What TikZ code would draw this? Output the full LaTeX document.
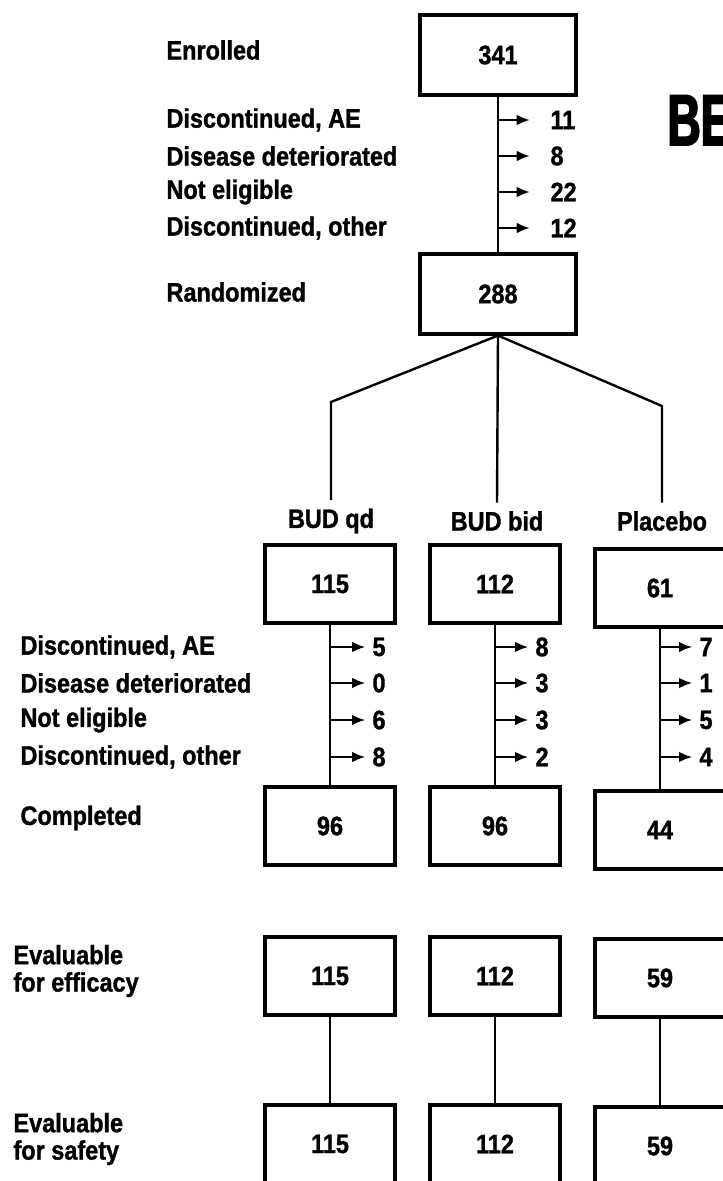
\documentclass[tikz,border=0pt]{standalone}
\usepackage{graphicx}
\usepackage{fontspec}
\setmainfont{Liberation Sans}
\newfontfamily\scanfamily[FakeStretch=0.88, FakeBold=1.2]{Liberation Sans}
\newfontfamily\titlefamily[FakeStretch=0.64, FakeBold=2.5]{Liberation Sans}
\usetikzlibrary{arrows.meta}

\newcommand{\dfont}{\fontsize{20}{20.5}\selectfont\scanfamily\bfseries}

\tikzset{every picture/.style={line width=0.75pt}}
\tikzset{
  bigbox/.style={draw, line width=2.3pt, minimum width=117pt, minimum height=60pt, inner sep=0pt, font=\dfont},
  grpbox/.style={draw, line width=2.3pt, minimum width=97.5pt, minimum height=58.5pt, inner sep=0pt, font=\dfont},
  lbl/.style={anchor=west, inner sep=0pt, align=left, font=\dfont},
  grplbl/.style={inner sep=6pt, font=\dfont},
  num/.style={anchor=west, inner sep=0pt, font=\dfont},
  conn/.style={line width=1.8pt},
  outarrow/.style={line width=1.8pt, -{Latex[length=10pt,width=8pt]}},
}

\begin{document}
\begin{tikzpicture}[x=0.75pt,y=0.75pt,yscale=-1,xscale=1]
\useasboundingbox (0,0) rectangle (723,1181);
\clip (0,0) rectangle (723,1181);

% Boxes
\node[bigbox] (enrol) at (498,55) {341};
\node[bigbox] (rand) at (498,294) {288};
\node[grpbox] (qd) at (330,584) {115};
\node[grpbox] (bid) at (495,584) {112};
\node[grpbox] (plc) at (660,588) {61};
\node[grpbox] (qdc) at (330,826) {96};
\node[grpbox] (bidc) at (495,826) {96};
\node[grpbox] (plcc) at (660,830) {44};
\node[grpbox] (qde) at (330,976) {115};
\node[grpbox] (bide) at (495,976) {112};
\node[grpbox] (plce) at (660,978) {59};
\node[grpbox] (qds) at (330,1144) {115};
\node[grpbox] (bids) at (495,1144) {112};
\node[grpbox] (plcs) at (660,1146) {59};

% Title (cut off at the edge)
\node[anchor=base west, inner sep=0pt] (title) at (667,145) {\fontsize{54}{54}\selectfont\titlefamily\bfseries BE};

% Left labels
\node[lbl] (lenrol) at (166,50) {Enrolled};
\node[lbl] (lae) at (166,120) {Discontinued, AE};
\node[lbl] (ldis) at (166,156) {Disease deteriorated};
\node[lbl] (lnot) at (166,192) {Not eligible};
\node[lbl] (loth) at (166,228) {Discontinued, other};
\node[lbl] (lrand) at (166,292) {Randomized};

\node[lbl] (gae) at (20,647) {Discontinued, AE};
\node[lbl] (gdis) at (20,683) {Disease deteriorated};
\node[lbl] (gnot) at (20,720) {Not eligible};
\node[lbl] (goth) at (20,757) {Discontinued, other};
\node[lbl] (lcomp) at (20,818) {Completed};
\node[lbl] (leff) at (13,971) {Evaluable\\for efficacy};
\node[lbl] (lsaf) at (13,1139) {Evaluable\\for safety};

% Group labels
\node[grplbl] (lqd) at (331,521) {BUD qd};
\node[grplbl] (lbid) at (497,521) {BUD bid};
\node[grplbl] (lplc) at (662,521) {Placebo};

% Randomisation fan
\coordinate (kqd) at (331,402);
\coordinate (kplc) at (662,406);
\draw[conn] (enrol) -- (rand);
\draw[conn] (rand.south) -- (kqd) -- (lqd.north);
\draw[conn] (rand.south) -- (lbid.north);
\draw[conn] (rand.south) -- (kplc) -- (lplc.north);

% Group trunks
\draw[conn] (qd) -- (qdc);
\draw[conn] (bid) -- (bidc);
\draw[conn] (plc) -- (plcc);
\draw[conn] (qde) -- (qds);
\draw[conn] (bide) -- (bids);
\draw[conn] (plce) -- (plcs);

% Drop-outs before randomisation
\coordinate (e1) at (498,120);
\coordinate (e2) at (498,156);
\coordinate (e3) at (498,192);
\coordinate (e4) at (498,228);
\node[num] (en1) at (550,120) {11};
\node[num] (en2) at (550,156) {8};
\node[num] (en3) at (550,192) {22};
\node[num] (en4) at (550,228) {12};
\draw[outarrow, shorten >=15pt] (e1) -- (en1.west);
\draw[outarrow, shorten >=15pt] (e2) -- (en2.west);
\draw[outarrow, shorten >=15pt] (e3) -- (en3.west);
\draw[outarrow, shorten >=15pt] (e4) -- (en4.west);

% Drop-outs, BUD qd
\coordinate (q1) at (330,647);
\coordinate (q2) at (330,683);
\coordinate (q3) at (330,720);
\coordinate (q4) at (330,757);
\node[num] (qn1) at (372,647) {5};
\node[num] (qn2) at (372,683) {0};
\node[num] (qn3) at (372,720) {6};
\node[num] (qn4) at (372,757) {8};
\draw[outarrow, shorten >=5pt] (q1) -- (qn1.west);
\draw[outarrow, shorten >=5pt] (q2) -- (qn2.west);
\draw[outarrow, shorten >=5pt] (q3) -- (qn3.west);
\draw[outarrow, shorten >=5pt] (q4) -- (qn4.west);

% Drop-outs, BUD bid
\coordinate (b1) at (495,647);
\coordinate (b2) at (495,683);
\coordinate (b3) at (495,720);
\coordinate (b4) at (495,757);
\node[num] (bn1) at (535,647) {8};
\node[num] (bn2) at (535,683) {3};
\node[num] (bn3) at (535,720) {3};
\node[num] (bn4) at (535,757) {2};
\draw[outarrow, shorten >=5pt] (b1) -- (bn1.west);
\draw[outarrow, shorten >=5pt] (b2) -- (bn2.west);
\draw[outarrow, shorten >=5pt] (b3) -- (bn3.west);
\draw[outarrow, shorten >=5pt] (b4) -- (bn4.west);

% Drop-outs, placebo
\coordinate (p1) at (660,647);
\coordinate (p2) at (660,683);
\coordinate (p3) at (660,720);
\coordinate (p4) at (660,757);
\node[num] (pn1) at (699,647) {7};
\node[num] (pn2) at (699,683) {1};
\node[num] (pn3) at (699,720) {5};
\node[num] (pn4) at (699,757) {4};
\draw[outarrow, shorten >=5pt] (p1) -- (pn1.west);
\draw[outarrow, shorten >=5pt] (p2) -- (pn2.west);
\draw[outarrow, shorten >=5pt] (p3) -- (pn3.west);
\draw[outarrow, shorten >=5pt] (p4) -- (pn4.west);

\end{tikzpicture}
\end{document}
